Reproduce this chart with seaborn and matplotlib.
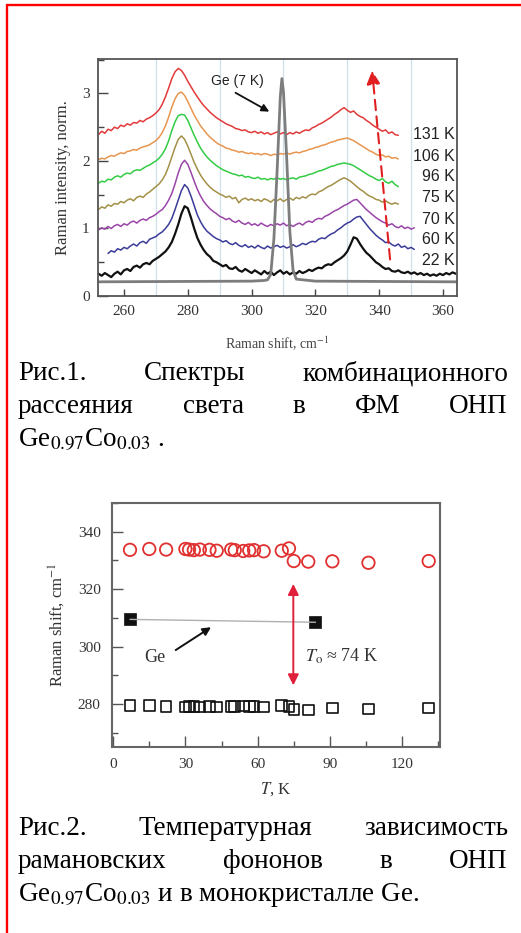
import numpy as np
import pandas as pd
import matplotlib
matplotlib.use("Agg")
import matplotlib.pyplot as plt
from matplotlib.lines import Line2D
from matplotlib.ticker import MultipleLocator
import seaborn as sns

sns.set_theme(style="ticks")
plt.rcParams["font.family"] = ["Liberation Serif", "DejaVu Serif"]
plt.rcParams["mathtext.fontset"] = "stix"

# ---------------- Raman spectra of Ge0.97Co0.03 (normalised, offset) ----------------
spec_22K_start = 252
spec_22K = [0.33, 0.30, 0.34, 0.31, 0.28, 0.33, 0.36, 0.32, 0.38, 0.40, 0.37, 0.43, 0.45, 0.42, 0.47,
            0.49, 0.47, 0.52, 0.55, 0.58, 0.62, 0.66, 0.72, 0.80, 0.92, 1.06, 1.22, 1.33, 1.30, 1.16,
            1.00, 0.86, 0.76, 0.68, 0.62, 0.58, 0.52, 0.50, 0.47, 0.44, 0.46, 0.41, 0.40, 0.43, 0.38,
            0.36, 0.40, 0.37, 0.34, 0.38, 0.35, 0.32, 0.37, 0.33, 0.36, 0.31, 0.35, 0.38, 0.33, 0.36,
            0.32, 0.35, 0.33, 0.37, 0.34, 0.36, 0.39, 0.37, 0.40, 0.42, 0.41, 0.45, 0.47, 0.46, 0.50,
            0.53, 0.56, 0.60, 0.66, 0.76, 0.87, 0.85, 0.77, 0.70, 0.64, 0.60, 0.55, 0.50, 0.47, 0.43,
            0.40, 0.41, 0.37, 0.36, 0.38, 0.35, 0.34, 0.36, 0.33, 0.35, 0.32, 0.34, 0.31, 0.33, 0.30,
            0.32, 0.30, 0.33, 0.31, 0.34, 0.32, 0.35, 0.33]

spec_60K_start = 255
spec_60K = [0.63, 0.67, 0.65, 0.70, 0.68, 0.72, 0.70, 0.74, 0.77, 0.74, 0.79, 0.81, 0.78, 0.84, 0.86,
            0.88, 0.92, 0.95, 1.00, 1.06, 1.15, 1.28, 1.42, 1.56, 1.65, 1.60, 1.48, 1.34, 1.20, 1.10,
            1.02, 0.96, 0.92, 0.88, 0.85, 0.83, 0.80, 0.82, 0.78, 0.76, 0.79, 0.75, 0.73, 0.76, 0.72,
            0.74, 0.71, 0.75, 0.72, 0.70, 0.74, 0.71, 0.73, 0.75, 0.72, 0.74, 0.71, 0.73, 0.76, 0.73,
            0.75, 0.78, 0.76, 0.79, 0.81, 0.80, 0.84, 0.86, 0.85, 0.89, 0.92, 0.94, 0.98, 1.01, 1.05,
            1.08, 1.10, 1.14, 1.17, 1.18, 1.12, 1.06, 1.00, 0.95, 0.90, 0.86, 0.83, 0.79, 0.80, 0.76,
            0.74, 0.77, 0.72, 0.74, 0.70, 0.72, 0.69]

spec_70K_start = 252
spec_70K = [0.98, 1.01, 0.99, 1.03, 1.00, 1.04, 1.06, 1.03, 1.07, 1.05, 1.09, 1.11, 1.08, 1.12, 1.14,
            1.12, 1.16, 1.18, 1.21, 1.25, 1.28, 1.34, 1.42, 1.52, 1.66, 1.82, 1.95, 2.01, 1.95, 1.83,
            1.70, 1.58, 1.48, 1.40, 1.34, 1.29, 1.25, 1.22, 1.18, 1.16, 1.13, 1.15, 1.11, 1.09, 1.12,
            1.08, 1.06, 1.09, 1.05, 1.07, 1.04, 1.08, 1.05, 1.03, 1.06, 1.04, 1.07, 1.05, 1.08, 1.04,
            1.06, 1.03, 1.06, 1.08, 1.05, 1.09, 1.11, 1.09, 1.13, 1.15, 1.14, 1.18, 1.20, 1.23, 1.26,
            1.28, 1.31, 1.34, 1.36, 1.39, 1.42, 1.43, 1.38, 1.33, 1.28, 1.24, 1.20, 1.16, 1.13, 1.10,
            1.08, 1.05, 1.07, 1.03, 1.01, 1.04, 1.00, 1.02, 0.99, 1.01]

spec_75K_start = 252
spec_75K = [1.28, 1.32, 1.30, 1.35, 1.33, 1.37, 1.36, 1.40, 1.38, 1.42, 1.44, 1.41, 1.46, 1.48, 1.46,
            1.51, 1.54, 1.58, 1.62, 1.66, 1.72, 1.80, 1.92, 2.06, 2.20, 2.32, 2.37, 2.32, 2.22, 2.10,
            1.98, 1.88, 1.79, 1.72, 1.66, 1.61, 1.57, 1.54, 1.51, 1.49, 1.46, 1.48, 1.44, 1.46, 1.38,
            1.43, 1.45, 1.42, 1.44, 1.41, 1.43, 1.40, 1.44, 1.42, 1.39, 1.43, 1.41, 1.44, 1.40, 1.43,
            1.45, 1.42, 1.46, 1.44, 1.47, 1.45, 1.49, 1.51, 1.50, 1.54, 1.56, 1.59, 1.62, 1.64, 1.67,
            1.70, 1.73, 1.75, 1.73, 1.70, 1.66, 1.62, 1.58, 1.55, 1.51, 1.48, 1.46, 1.43, 1.42, 1.39,
            1.41, 1.38, 1.36, 1.38, 1.36]

spec_96K_start = 252
spec_96K = [1.67, 1.70, 1.69, 1.73, 1.72, 1.76, 1.78, 1.76, 1.80, 1.82, 1.81, 1.85, 1.87, 1.86, 1.89,
            1.92, 1.94, 1.97, 2.00, 2.04, 2.10, 2.18, 2.30, 2.45, 2.58, 2.67, 2.69, 2.68, 2.60, 2.49,
            2.38, 2.28, 2.19, 2.12, 2.06, 2.01, 1.97, 1.93, 1.90, 1.87, 1.85, 1.83, 1.81, 1.80, 1.78,
            1.79, 1.76, 1.77, 1.75, 1.74, 1.76, 1.73, 1.74, 1.72, 1.74, 1.73, 1.75, 1.73, 1.74, 1.72,
            1.74, 1.75, 1.73, 1.76, 1.77, 1.78, 1.80, 1.81, 1.83, 1.85, 1.86, 1.88, 1.90, 1.92, 1.93,
            1.95, 1.96, 1.97, 1.96, 1.95, 1.93, 1.90, 1.87, 1.84, 1.81, 1.78, 1.76, 1.73, 1.71, 1.74,
            1.69, 1.67, 1.70, 1.65, 1.62]

spec_106K_start = 252
spec_106K = [2.02, 2.04, 2.03, 2.06, 2.08, 2.07, 2.10, 2.12, 2.11, 2.14, 2.15, 2.17, 2.16, 2.19, 2.21,
             2.22, 2.24, 2.27, 2.30, 2.35, 2.42, 2.52, 2.65, 2.80, 2.92, 3.00, 3.02, 2.97, 2.88, 2.78,
             2.68, 2.60, 2.52, 2.46, 2.40, 2.35, 2.31, 2.27, 2.24, 2.22, 2.19, 2.18, 2.16, 2.15, 2.13,
             2.14, 2.12, 2.11, 2.12, 2.10, 2.11, 2.09, 2.11, 2.10, 2.08, 2.10, 2.09, 2.11, 2.10, 2.12,
             2.10, 2.12, 2.13, 2.12, 2.14, 2.15, 2.17, 2.18, 2.20, 2.21, 2.23, 2.24, 2.26, 2.28, 2.29,
             2.31, 2.32, 2.33, 2.34, 2.32, 2.30, 2.27, 2.24, 2.21, 2.18, 2.15, 2.13, 2.10, 2.08, 2.09,
             2.06, 2.07, 2.04, 2.05, 2.03]

spec_131K_start = 252
spec_131K = [2.39, 2.44, 2.41, 2.47, 2.45, 2.50, 2.48, 2.53, 2.51, 2.55, 2.53, 2.57, 2.56, 2.60, 2.58,
             2.62, 2.64, 2.67, 2.71, 2.76, 2.84, 2.95, 3.08, 3.22, 3.32, 3.37, 3.34, 3.27, 3.18, 3.10,
             3.02, 2.95, 2.88, 2.82, 2.77, 2.72, 2.68, 2.64, 2.61, 2.58, 2.55, 2.53, 2.51, 2.48, 2.47,
             2.45, 2.46, 2.43, 2.42, 2.44, 2.41, 2.43, 2.40, 2.42, 2.39, 2.41, 2.43, 2.40, 2.42, 2.39,
             2.42, 2.40, 2.43, 2.41, 2.44, 2.46, 2.45, 2.49, 2.51, 2.54, 2.56, 2.59, 2.62, 2.65, 2.69,
             2.72, 2.76, 2.79, 2.75, 2.72, 2.74, 2.69, 2.66, 2.64, 2.60, 2.57, 2.53, 2.50, 2.47, 2.44,
             2.46, 2.41, 2.43, 2.39, 2.38]

temps = ["22 K", "60 K", "70 K", "75 K", "96 K", "106 K", "131 K"]
spec_colors = ["#111111", "#3b3b99", "#9a45a8", "#a39048", "#33cc44", "#e8964f", "#e23a3a"]
label_y = [0.52, 0.83, 1.14, 1.46, 1.77, 2.07, 2.39]

# Bulk Ge reference spectrum at 7 K
ge_shift = [252, 300, 304, 305, 306, 307, 308, 309, 309.5, 310, 311, 312, 313, 314, 320, 364]
ge_int = [0.21, 0.22, 0.23, 0.24, 0.32, 0.85, 1.85, 2.95, 3.22, 3.02, 2.05, 0.95, 0.38, 0.25, 0.22, 0.21]

# ---------------- Phonon positions vs temperature ----------------
temp_K = [7, 15, 22, 30, 31.5, 33.5, 36, 40, 43, 49, 50.5, 54, 56.5, 58.5, 62.5, 70, 73, 75, 81, 91, 106, 131]
mode_330 = [333.7, 334.0, 333.8, 334.0, 333.8, 333.6, 333.8, 333.7, 333.4, 333.8, 333.6, 333.3, 333.5,
            333.6, 333.2, 333.4, 334.2, 329.8, 329.6, 329.7, 329.2, 329.8]
mode_280 = [279.5, 279.6, 279.2, 279.0, 279.1, 279.1, 279.0, 279.1, 279.0, 279.2, 279.1, 279.3, 279.1,
            279.2, 279.0, 279.5, 279.2, 278.1, 277.9, 278.6, 278.3, 278.6]
ge_temp = [7, 84]
ge_mode = [309.5, 308.5]

W, H = 521, 933
fig = plt.figure(figsize=(W / 100, H / 100), dpi=100)
fig.patch.set_facecolor("white")


def px_rect(left, top, right, bottom):
    return [left / W, 1 - bottom / H, (right - left) / W, (bottom - top) / H]


# ================= Figure 1: spectra =================
ax1 = fig.add_axes(px_rect(98, 59, 457, 296))
starts = [spec_22K_start, spec_60K_start, spec_70K_start, spec_75K_start,
          spec_96K_start, spec_106K_start, spec_131K_start]
series = [spec_22K, spec_60K, spec_70K, spec_75K, spec_96K, spec_106K, spec_131K]
frames = []
for t, s0, vals in zip(temps, starts, series):
    frames.append(pd.DataFrame({"shift": np.arange(s0, s0 + len(vals)), "intensity": vals, "T": t}))
spectra = pd.concat(frames, ignore_index=True)

sns.lineplot(data=spectra, x="shift", y="intensity", hue="T", hue_order=temps[::-1],
             palette=dict(zip(temps, spec_colors)), estimator=None, sort=False,
             legend=False, linewidth=1.1, ax=ax1)
for line in ax1.get_lines():
    if matplotlib.colors.to_hex(line.get_color()) == "#111111":
        line.set_linewidth(1.6)

sns.lineplot(x=ge_shift, y=ge_int, color="#7d7d7d", linewidth=2.0, estimator=None, sort=False, ax=ax1)

for t, y, c in zip(temps, label_y, spec_colors):
    ax1.text(363.6, y, t, ha="right", va="center", fontsize=11.5, color="#222222",
             family=["Liberation Sans", "DejaVu Sans"])

ax1.text(287.4, 3.18, "Ge (7 K)", ha="left", va="center", fontsize=10, color="#222222",
         family=["Liberation Sans", "DejaVu Sans"])
ax1.annotate("", xy=(306.3, 2.71), xytext=(294.2, 3.03),
             arrowprops=dict(arrowstyle="-|>", color="#111111", lw=1.3, mutation_scale=11))
ax1.annotate("", xy=(337.7, 3.38), xytext=(343.5, 0.50),
             arrowprops=dict(arrowstyle="-|>", color="#e02020", lw=1.5, linestyle=(0, (5, 3)),
                             mutation_scale=20))

ax1.set_xlim(251.85, 364.4)
ax1.set_ylim(0, 3.51)
ax1.xaxis.set_major_locator(MultipleLocator(20))
ax1.xaxis.set_minor_locator(MultipleLocator(10))
ax1.yaxis.set_major_locator(MultipleLocator(1))
ax1.yaxis.set_minor_locator(MultipleLocator(0.5))
ax1.grid(which="minor", axis="x", color="#cfe0ea", linewidth=0.9, linestyle="-")
ax1.tick_params(which="both", direction="in", top=False, right=False, colors="#444444",
                labelsize=11, labelcolor="#333333")
ax1.tick_params(axis="x", which="major", length=5, width=1.0, pad=6.5)
ax1.tick_params(axis="x", which="minor", length=0)
ax1.tick_params(axis="y", which="major", length=7, width=1.0, pad=6)
ax1.tick_params(axis="y", which="minor", length=4, width=1.0)
for sp in ax1.spines.values():
    sp.set_color("#555555")
    sp.set_linewidth(1.3)
ax1.set_xlabel("Raman shift, cm$^{-1}$", fontsize=10, color="#444444", labelpad=12)
ax1.set_ylabel("Raman intensity, norm.", fontsize=12, color="#333333", labelpad=8)

# ================= Figure 2: phonon frequencies vs T =================
ax2 = fig.add_axes(px_rect(111.7, 503, 440, 746.7))
sns.lineplot(x=ge_temp, y=ge_mode, color="#b0b0b0", linewidth=1.0, estimator=None, ax=ax2)
sns.scatterplot(x=temp_K, y=mode_330, marker="o", s=80, color="#e03030", linewidth=1.3, ax=ax2)
sns.scatterplot(x=temp_K, y=mode_280, marker="s", s=58, color="#111111", linewidth=1.2, ax=ax2)
sns.scatterplot(x=ge_temp, y=ge_mode, marker="s", s=85, color="#111111", linewidth=0.5,
                edgecolor="#111111", ax=ax2)
colls = ax2.collections
colls[0].set_facecolor("none")
colls[0].set_edgecolor("#e03030")
colls[1].set_facecolor("none")
colls[1].set_edgecolor("#111111")

ax2.annotate("", xy=(74.8, 322.8), xytext=(74.8, 285.6),
             arrowprops=dict(arrowstyle="<|-|>", color="#e0203a", lw=1.4, mutation_scale=16))
ax2.annotate("", xy=(41.6, 307.3), xytext=(25, 298.3),
             arrowprops=dict(arrowstyle="-|>", color="#111111", lw=1.4, mutation_scale=12))
ax2.text(12.8, 294.5, "Ge", fontsize=13, color="#333333", va="baseline")
ax2.text(79.6, 294.8, r"$T_{\rm o}$ ≈ 74 K", fontsize=13, color="#333333", va="baseline")

ax2.set_xlim(-0.6, 135.7)
ax2.set_ylim(265.2, 350)
ax2.xaxis.set_major_locator(MultipleLocator(30))
ax2.xaxis.set_minor_locator(MultipleLocator(15))
ax2.yaxis.set_major_locator(MultipleLocator(20))
ax2.yaxis.set_minor_locator(MultipleLocator(10))
ax2.tick_params(which="both", direction="in", top=False, right=False, colors="#555555",
                labelsize=11, labelcolor="#333333")
ax2.tick_params(which="major", length=8, width=1.0, pad=8)
ax2.tick_params(which="minor", length=4, width=1.0)
for sp in ax2.spines.values():
    sp.set_color("#666666")
    sp.set_linewidth(1.5)
ax2.set_xlabel(r"$T$, K", fontsize=12, color="#333333", labelpad=6.5)
ax2.set_ylabel("Raman shift, cm$^{-1}$", fontsize=12, color="#333333", labelpad=8)

# ================= Captions (justified lines) =================
CAP_FS = 19.5
renderer = fig.canvas.get_renderer()


def caption_line(words, baseline_px, justify=True, x0=18, x1=508):
    texts = [fig.text(0, 1 - baseline_px / H, w, fontsize=CAP_FS, va="baseline", color="black")
             for w in words]
    widths = [t.get_window_extent(renderer).width for t in texts]
    gap = (x1 - x0 - sum(widths)) / (len(words) - 1) if (justify and len(words) > 1) else 0
    x = x0
    for t, w in zip(texts, widths):
        t.set_x(x / W)
        x += w + gap


caption_line(["Рис.1.", "Спектры", "комбинационного"], 380)
caption_line(["рассеяния", "света", "в", "ФМ", "ОНП"], 413)
caption_line(["Ge$_{0.97}$Co$_{0.03}$ ."], 446, justify=False)

caption_line(["Рис.2.", "Температурная", "зависимость"], 835)
caption_line(["рамановских", "фононов", "в", "ОНП"], 868)
caption_line(["Ge$_{0.97}$Co$_{0.03}$ и в монокристалле Ge."], 901, justify=False)

# Page frame
fig.add_artist(Line2D([7 / W, 7 / W], [0, 1 - 5 / H], color="#ff0000", linewidth=1.7,
                      transform=fig.transFigure))
fig.add_artist(Line2D([7 / W, 1], [1 - 5 / H, 1 - 5 / H], color="#ff0000", linewidth=1.7,
                      transform=fig.transFigure))

fig.savefig("out.png", dpi=100, facecolor="white")
